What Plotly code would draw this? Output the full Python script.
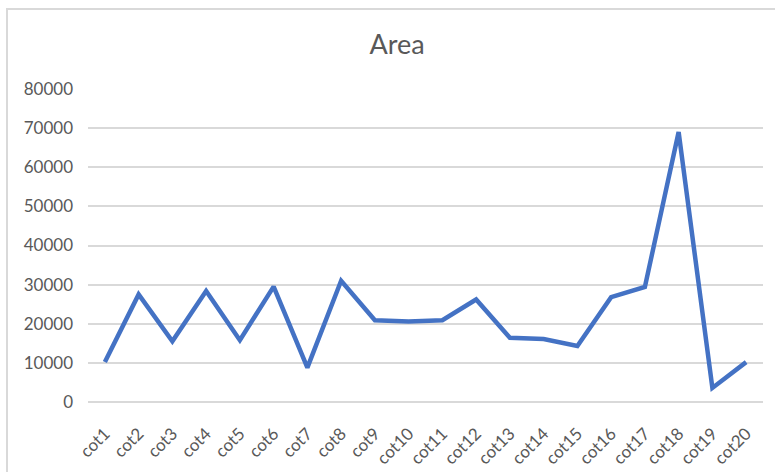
import plotly.graph_objects as go

categories = [f"cot{i}" for i in range(1, 21)]
area_values = [10200, 27500, 15500, 28400, 15800, 29500, 8800, 31000, 20900, 20600,
               20900, 26200, 16400, 16100, 14300, 26800, 29400, 69000, 3600, 10200]
y_ticks = [0, 10000, 20000, 30000, 40000, 50000, 60000, 70000, 80000]

W, H = 775, 472
ml, mr, mt, mb = 88, 12, 89, 70

fig = go.Figure()
fig.add_trace(go.Scatter(x=categories, y=area_values, mode="lines",
                         line=dict(color="#4472C4", width=4.5)))

pw = W - ml - mr
ph = H - mt - mb
fig.add_shape(type="rect", xref="paper", yref="paper",
              x0=(7 - ml) / pw, x1=(W + 30 - ml) / pw,
              y0=-(mb + 30) / ph, y1=(H - mb - 9) / ph,
              line=dict(color="#d9d9d9", width=2), fillcolor="rgba(0,0,0,0)", layer="below")

fig.update_layout(
    width=W, height=H,
    margin=dict(l=ml, r=mr, t=mt, b=mb, autoexpand=False),
    paper_bgcolor="white", plot_bgcolor="white",
    showlegend=False,
    font=dict(family="Lato, Open Sans, sans-serif", color="#595959"),
    title=dict(text="Area", x=(397) / W, xanchor="center", y=1 - 45 / H, yanchor="middle",
               font=dict(size=27, color="#595959")),
    xaxis=dict(showgrid=False, showline=False, zeroline=False, tickangle=-45,
               tickfont=dict(size=17, color="#595959"), automargin=False,
               ticks="outside", ticklen=14, tickcolor="rgba(0,0,0,0)",
               range=[-0.5, 19.5]),
    yaxis=dict(range=[0, 80000], tickvals=y_ticks, ticktext=[str(v) for v in y_ticks],
               showgrid=True, gridcolor="#d9d9d9", gridwidth=1.5, automargin=False,
               zeroline=True, zerolinecolor="#d9d9d9", zerolinewidth=1.5,
               showline=False, ticks="", ticklabelstandoff=14,
               tickfont=dict(size=17, color="#595959")),
)

fig.write_html("out.html")
